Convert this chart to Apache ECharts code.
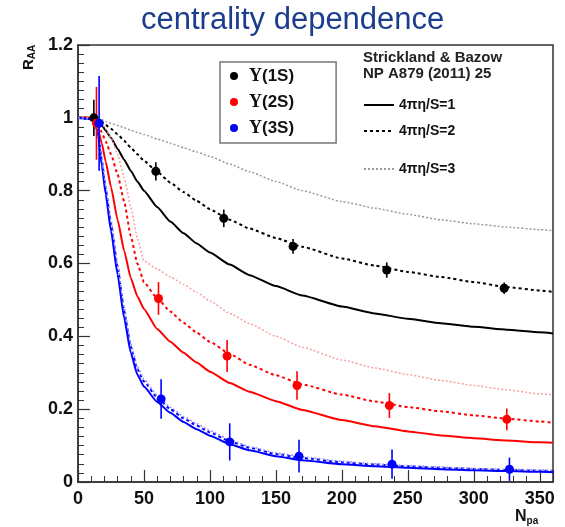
<!DOCTYPE html>
<html>
<head>
<meta charset="utf-8">
<script src="https://cdn.jsdelivr.net/npm/echarts@6/dist/echarts.min.js"></script>
<style>
  html, body { margin: 0; padding: 0; background: #fff; }
  #chart { width: 565px; height: 527px; }
</style>
</head>
<body>
<div id="chart"></div>
<script>
// Measured nuclear modification factor vs. number of participants
const ups1X = [12, 59, 110.5, 163, 234, 323];
const ups1Y = [1.0, 0.853, 0.724, 0.647, 0.582, 0.532];
const ups1Err = [0.05, 0.025, 0.024, 0.02, 0.021, 0.016];

const ups2X = [14, 61, 113, 166, 236, 325];
const ups2Y = [0.985, 0.504, 0.346, 0.265, 0.21, 0.172];
const ups2Err = [0.1, 0.045, 0.044, 0.039, 0.034, 0.03];

const ups3X = [16, 63, 115, 167.5, 238, 327];
const ups3Y = [0.985, 0.228, 0.11, 0.071, 0.049, 0.035];
const ups3Err = [0.13, 0.054, 0.051, 0.045, 0.04, 0.032];

// Model curves (Strickland & Bazow), sampled on a common Npart grid
const curveX = [0, 12, 15, 18, 21, 25, 30, 35, 40, 45, 50, 60, 70, 80, 90, 100, 115, 130, 150, 170, 200, 225, 250, 275, 300, 325, 350, 360];

const ups1Eta1 = [1.0, 1.0, 0.99, 0.98, 0.965, 0.945, 0.915, 0.885, 0.855, 0.825, 0.80, 0.755, 0.715, 0.683, 0.655, 0.63, 0.597, 0.568, 0.538, 0.512, 0.482, 0.463, 0.448, 0.436, 0.426, 0.418, 0.411, 0.408];
const ups1Eta2 = [1.0, 1.0, 0.995, 0.99, 0.98, 0.97, 0.955, 0.937, 0.918, 0.9, 0.882, 0.852, 0.822, 0.796, 0.772, 0.749, 0.72, 0.696, 0.67, 0.646, 0.614, 0.594, 0.577, 0.563, 0.549, 0.535, 0.526, 0.522];
const ups1Eta3 = [1.0, 1.0, 0.998, 0.995, 0.99, 0.985, 0.979, 0.973, 0.966, 0.96, 0.954, 0.942, 0.93, 0.918, 0.906, 0.894, 0.873, 0.852, 0.825, 0.80, 0.77, 0.752, 0.735, 0.72, 0.709, 0.70, 0.693, 0.69];

const ups2Eta1 = [1.0, 1.0, 0.97, 0.93, 0.88, 0.81, 0.72, 0.635, 0.56, 0.51, 0.475, 0.42, 0.385, 0.355, 0.328, 0.303, 0.272, 0.248, 0.222, 0.198, 0.17, 0.153, 0.139, 0.128, 0.12, 0.114, 0.109, 0.108];
const ups2Eta2 = [1.0, 1.0, 0.985, 0.96, 0.935, 0.9, 0.845, 0.77, 0.675, 0.6, 0.548, 0.505, 0.468, 0.437, 0.41, 0.385, 0.352, 0.322, 0.293, 0.268, 0.24, 0.221, 0.206, 0.194, 0.183, 0.174, 0.166, 0.163];
const ups2Eta3 = [1.0, 1.0, 0.995, 0.985, 0.97, 0.945, 0.9, 0.835, 0.755, 0.67, 0.607, 0.585, 0.563, 0.543, 0.521, 0.497, 0.463, 0.435, 0.4, 0.37, 0.335, 0.313, 0.295, 0.279, 0.265, 0.253, 0.242, 0.239];

const ups3Eta1 = [1.0, 0.995, 0.96, 0.87, 0.79, 0.69, 0.57, 0.45, 0.355, 0.295, 0.262, 0.22, 0.19, 0.165, 0.145, 0.127, 0.104, 0.087, 0.071, 0.06, 0.049, 0.043, 0.039, 0.035, 0.032, 0.03, 0.028, 0.027];
const ups3Eta2 = [1.0, 0.995, 0.965, 0.885, 0.805, 0.71, 0.59, 0.47, 0.372, 0.31, 0.276, 0.232, 0.2, 0.175, 0.155, 0.136, 0.112, 0.094, 0.077, 0.066, 0.054, 0.048, 0.043, 0.039, 0.036, 0.033, 0.031, 0.03];
const ups3Eta3 = [1.0, 0.995, 0.97, 0.89, 0.815, 0.72, 0.6, 0.48, 0.38, 0.317, 0.282, 0.238, 0.205, 0.18, 0.16, 0.141, 0.116, 0.097, 0.08, 0.069, 0.057, 0.05, 0.045, 0.041, 0.037, 0.035, 0.033, 0.032];

const stateNames = ['Υ(1S)', 'Υ(2S)', 'Υ(3S)'];
const etaNames = ['4πη/S=1', '4πη/S=2', '4πη/S=3'];

const FONT = '"Liberation Sans", Arial, Helvetica, sans-serif';
const SERIF = '"Liberation Serif", "DejaVu Serif", serif';

const zip = (xs, ys) => xs.map((x, i) => [x, ys[i]]);

// colours: [main, faint] per state
const palette = [
  { main: '#000000', faint: '#9a9a9a' },
  { main: '#ff0000', faint: '#f7a0a0' },
  { main: '#0000ff', faint: '#8c8cff' }
];

const states = [
  { x: ups1X, y: ups1Y, err: ups1Err, curves: [ups1Eta1, ups1Eta2, ups1Eta3] },
  { x: ups2X, y: ups2Y, err: ups2Err, curves: [ups2Eta1, ups2Eta2, ups2Eta3] },
  { x: ups3X, y: ups3Y, err: ups3Err, curves: [ups3Eta1, ups3Eta2, ups3Eta3] }
];

const series = [];

states.forEach((st, si) => {
  const col = palette[si];
  st.curves.forEach((ys, ci) => {
    const style = ci === 0
      ? { color: col.main, width: 2, type: 'solid' }
      : ci === 1
        ? { color: col.main, width: 2, type: [3, 3] }
        : { color: col.faint, width: 1.5, type: [2, 2] };
    series.push({
      type: 'line',
      name: si === 0 ? etaNames[ci] : stateNames[si] + ' ' + etaNames[ci],
      data: zip(curveX, ys),
      symbol: 'none',
      smooth: 0.15,
      smoothMonotone: 'x',
      lineStyle: style,
      itemStyle: { color: style.color },
      z: 2,
      silent: true
    });
  });
});

states.forEach((st, si) => {
  const col = palette[si].main;
  series.push({
    type: 'custom',
    name: stateNames[si] + ' err',
    data: st.x.map((x, i) => [x, st.y[i] - st.err[i], st.y[i] + st.err[i]]),
    encode: { x: 0, y: [1, 2] },
    renderItem: (params, api) => {
      const a = api.coord([api.value(0), api.value(1)]);
      const b = api.coord([api.value(0), api.value(2)]);
      return {
        type: 'line',
        shape: { x1: a[0], y1: a[1], x2: b[0], y2: b[1] },
        style: { stroke: col, lineWidth: 1.6 }
      };
    },
    z: 3,
    silent: true
  });
  series.push({
    type: 'scatter',
    name: stateNames[si],
    data: zip(st.x, st.y),
    symbol: 'circle',
    symbolSize: 9,
    itemStyle: { color: col, opacity: 1 },
    z: 4
  });
});

const legendText = { fontFamily: FONT, fontWeight: 'bold', color: '#111' };

// one small legend per model curve style (uneven vertical spacing)
const etaLegendTops = [93, 119, 157];
const etaLegends = etaNames.map((nm, i) => ({
  data: [nm], left: 358, top: etaLegendTops[i],
  itemWidth: 30, itemHeight: 14, selectedMode: false,
  itemStyle: { opacity: 0 },
  textStyle: Object.assign({ fontSize: 14 }, legendText)
}));

const option = {
  animation: false,
  backgroundColor: '#ffffff',
  title: {
    text: 'centrality dependence',
    left: 136,
    top: 0,
    textStyle: { fontFamily: FONT, fontWeight: 'normal', fontSize: 31, color: '#1c3c8c' }
  },
  grid: {
    left: 78, top: 45, right: 12, bottom: 45,
    show: true, borderColor: '#333', borderWidth: 1.5,
    containLabel: false
  },
  legend: [
    {
      data: stateNames,
      orient: 'vertical',
      left: 220, top: 62,
      icon: 'circle',
      itemWidth: 8, itemHeight: 8,
      itemGap: 8,
      padding: [5, 42, 6, 10],
      borderColor: '#777', borderWidth: 1.5,
      selectedMode: false,
      itemStyle: { opacity: 1 },
      formatter: name => '{u|Υ}' + name.slice(1),
      textStyle: Object.assign({
        fontSize: 17, lineHeight: 18, padding: [0, 0, 0, 6],
        rich: { u: { fontFamily: SERIF, fontWeight: 'bold', fontSize: 18, color: '#111' } }
      }, legendText)
    }
  ].concat(etaLegends),
  xAxis: {
    type: 'value',
    min: 0, max: 360, interval: 50,
    axisLine: { onZero: false, lineStyle: { color: '#333', width: 1.5 } },
    axisTick: { inside: true, length: 12, lineStyle: { color: '#333', width: 1.2 } },
    minorTick: { show: true, splitNumber: 5, length: 6, lineStyle: { color: '#333', width: 1 } },
    splitLine: { show: false },
    axisLabel: {
      showMaxLabel: false, margin: 8,
      fontFamily: FONT, fontWeight: 'bold', fontSize: 18, color: '#111'
    }
  },
  yAxis: {
    type: 'value',
    min: 0, max: 1.2, interval: 0.2,
    axisLine: { show: true, onZero: false, lineStyle: { color: '#333', width: 1.5 } },
    axisTick: { show: true, inside: true, length: 12, lineStyle: { color: '#333', width: 1.2 } },
    minorTick: { show: true, splitNumber: 8, length: 6, lineStyle: { color: '#333', width: 1 } },
    splitLine: { show: false },
    axisLabel: {
      margin: 5,
      fontFamily: FONT, fontWeight: 'bold', fontSize: 18, color: '#111'
    }
  },
  graphic: [
    {
      type: 'text',
      left: 363, top: 50,
      style: {
        text: 'Strickland & Bazow\nNP A879 (2011) 25',
        font: 'bold 15px ' + FONT,
        lineHeight: 16,
        fill: '#222'
      }
    },
    {
      type: 'text',
      x: 21, y: 70,
      rotation: Math.PI / 2,
      style: {
        text: 'R{s|AA}',
        font: 'bold 15px ' + FONT,
        fill: '#111',
        rich: { s: { font: 'bold 10px ' + FONT, fill: '#111', verticalAlign: 'bottom', padding: [6, 0, 0, 0] } }
      }
    },
    {
      type: 'text',
      x: 515, y: 508,
      style: {
        text: 'N{s|pa}',
        font: 'bold 16px ' + FONT,
        fill: '#111',
        rich: { s: { font: 'bold 10px ' + FONT, fill: '#111', verticalAlign: 'bottom', padding: [8, 0, 0, 0] } }
      }
    }
  ],
  series: series
};

const chart = echarts.init(document.getElementById('chart'), null, { renderer: 'canvas' });
chart.setOption(option);
</script>
</body>
</html>
